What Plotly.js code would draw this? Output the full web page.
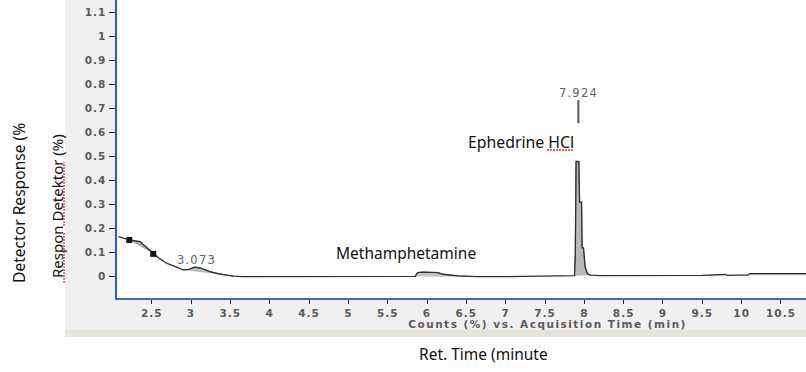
<!DOCTYPE html>
<html>
<head>
<meta charset="utf-8">
<script src="https://cdn.plot.ly/plotly-3.0.1.min.js"></script>
<style>
html,body{margin:0;padding:0;background:#fff;}
#chart{width:806px;height:372px;}
#chart .xtick text, #chart .ytick text{letter-spacing:1px;}
#chart .annotation[data-index="0"] text, #chart .annotation[data-index="1"] text{letter-spacing:1.2px;}
#chart .annotation[data-index="4"] text{letter-spacing:1.5px;}
</style>
</head>
<body>
<div id="chart"></div>
<script>
// Retention time (min) and detector response (%)
const retTime = [2.076, 2.215, 2.351, 2.45, 2.52, 2.60, 2.69, 2.80, 2.90, 2.97, 3.05, 3.12, 3.24, 3.35, 3.45, 3.54, 3.65, 4.0, 5.0, 5.85, 5.88, 5.95, 6.05, 6.14, 6.20, 6.30, 6.40, 6.55, 6.65, 7.0, 7.5, 7.7, 7.82, 7.875, 7.885, 7.895, 7.93, 7.94, 7.965, 7.972, 7.99, 8.01, 8.04, 8.08, 8.2, 8.5, 9.0, 9.5, 9.79, 9.82, 9.95, 10.08, 10.1, 10.5, 10.818];
const response = [0.167, 0.153, 0.146, 0.118, 0.095, 0.075, 0.056, 0.040, 0.028, 0.030, 0.040, 0.036, 0.021, 0.012, 0.006, 0.002, 0.0, 0.0, 0.001, 0.001, 0.017, 0.019, 0.018, 0.017, 0.010, 0.005, 0.003, 0.001, 0.0, 0.0, 0.001, 0.002, 0.003, 0.004, 0.09, 0.48, 0.48, 0.31, 0.31, 0.12, 0.12, 0.04, 0.012, 0.006, 0.004, 0.004, 0.004, 0.005, 0.009, 0.005, 0.006, 0.006, 0.012, 0.012, 0.012];

// Integrated peak windows [start, end] (min)
const peakWindows = [[2.215, 2.52], [2.90, 3.54], [5.85, 6.65], [7.875, 8.08]];
const peakFills = ["#a8a8a8", "#bcbcbc", "#c4c4c4", "#b8b8b8"];
// Baseline markers
const markerTime = [2.215, 2.52];
const markerResp = [0.153, 0.095];
// Peak labels
const peakLabelTime = [3.073, 7.924];
const peakLabelText = ["3.073", "7.924"];
const compoundNames = ["Methamphetamine", "Ephedrine HCl"];

const traces = [];
peakWindows.forEach((w, i) => {
  const xs = [], ys = [];
  retTime.forEach((t, j) => { if (t >= w[0] - 1e-9 && t <= w[1] + 1e-9) { xs.push(t); ys.push(response[j]); } });
  traces.push({x: xs, y: ys, type: 'scatter', mode: 'lines', fill: 'toself', fillcolor: peakFills[i], line: {color: '#777', width: 1}, hoverinfo: 'skip', showlegend: false});
});
traces.push({x: retTime, y: response, type: 'scatter', mode: 'lines', line: {color: '#303030', width: 1.3}, showlegend: false});
traces.push({x: markerTime, y: markerResp, type: 'scatter', mode: 'markers', marker: {symbol: 'square', size: 6, color: '#111'}, showlegend: false});

const W = 689, H = 298;
const px = v => (v - 117) / W;
const py = v => (298 - v) / H;
const tickFont = {family: 'DejaVu Sans', size: 10.5, color: '#5a5a5a', weight: 'bold'};
const note = (x, y, text, font, extra) => Object.assign({x: px(x), y: py(y), xref: 'paper', yref: 'paper', text: text, showarrow: false, xanchor: 'center', yanchor: 'middle', font: font}, extra || {});

const layout = {
  width: 806, height: 372,
  margin: {l: 117, r: 0, t: 0, b: 74},
  paper_bgcolor: '#ffffff', plot_bgcolor: '#ffffff',
  showlegend: false,
  xaxis: {
    range: [2.059, 10.818], tick0: 2.5, dtick: 0.5,
    showgrid: false, zeroline: false, showline: true, linecolor: '#3d6cc4', linewidth: 2,
    ticks: 'outside', ticklen: 4, tickcolor: '#222', tickwidth: 1,
    tickfont: tickFont
  },
  yaxis: {
    range: [-0.089, 1.153], tick0: 0, dtick: 0.1,
    showgrid: false, zeroline: false, showline: true, linecolor: '#2f5db8', linewidth: 2.5,
    ticks: 'outside', ticklen: 6, tickcolor: '#222', tickwidth: 1,
    tickfont: tickFont
  },
  shapes: [
    {type: 'rect', xref: 'paper', yref: 'paper', x0: px(65), x1: 0, y0: py(330), y1: 1, fillcolor: '#f0f0f0', line: {width: 0}, layer: 'below'},
    {type: 'rect', xref: 'paper', yref: 'paper', x0: px(65), x1: 1, y0: py(330), y1: 0, fillcolor: '#f0f0f0', line: {width: 0}, layer: 'below'},
    {type: 'rect', xref: 'paper', yref: 'paper', x0: px(65), x1: 1, y0: py(337), y1: py(330), fillcolor: '#e4e4dc', line: {width: 0}, layer: 'below'},
    {type: 'line', xref: 'x', yref: 'y', x0: peakLabelTime[1], x1: peakLabelTime[1], y0: 0.64, y1: 0.736, line: {color: '#555', width: 2}},
    {type: 'line', xref: 'paper', yref: 'paper', x0: px(547), x1: px(573), y0: py(150), y1: py(150), line: {color: '#e03030', width: 1.3, dash: '2px,1px'}},
    {type: 'line', xref: 'paper', yref: 'paper', x0: px(64), x1: px(64), y0: py(283), y1: py(232), line: {color: '#e03030', width: 1.3, dash: '2px,1px'}},
    {type: 'line', xref: 'paper', yref: 'paper', x0: px(64), x1: px(64), y0: py(226), y1: py(162), line: {color: '#e03030', width: 1.3, dash: '2px,1px'}}
  ],
  annotations: [
    {x: peakLabelTime[0], y: 0.07, xref: 'x', yref: 'y', text: peakLabelText[0], showarrow: false, xanchor: 'center', yanchor: 'middle', font: {family: 'DejaVu Sans', size: 11.5, color: '#5a6272'}},
    {x: peakLabelTime[1], y: 0.765, xref: 'x', yref: 'y', text: peakLabelText[1], showarrow: false, xanchor: 'center', yanchor: 'middle', font: {family: 'DejaVu Sans', size: 11.5, color: '#5a6272'}},
    note(406, 253, compoundNames[0], {family: 'Noto Sans', size: 15.5, color: '#111'}),
    note(521, 142, compoundNames[1], {family: 'Noto Sans', size: 15.8, color: '#111'}),
    note(547, 324, 'Counts (%) vs. Acquisition Time (min)', {family: 'DejaVu Sans', size: 10.5, color: '#5a5a5a', weight: 'bold'}),
    note(483, 354, 'Ret. Time (minute', {family: 'Noto Sans', size: 15.5, color: '#111'}),
    note(19, 203, 'Detector Response (%', {family: 'Noto Sans', size: 15.6, color: '#111'}, {textangle: -90}),
    note(57, 206, 'Respon Detektor (%)', {family: 'Noto Sans', size: 15, color: '#111'}, {textangle: -90})
  ]
};

Plotly.newPlot('chart', traces, layout, {displayModeBar: false, staticPlot: true});
</script>
</body>
</html>
